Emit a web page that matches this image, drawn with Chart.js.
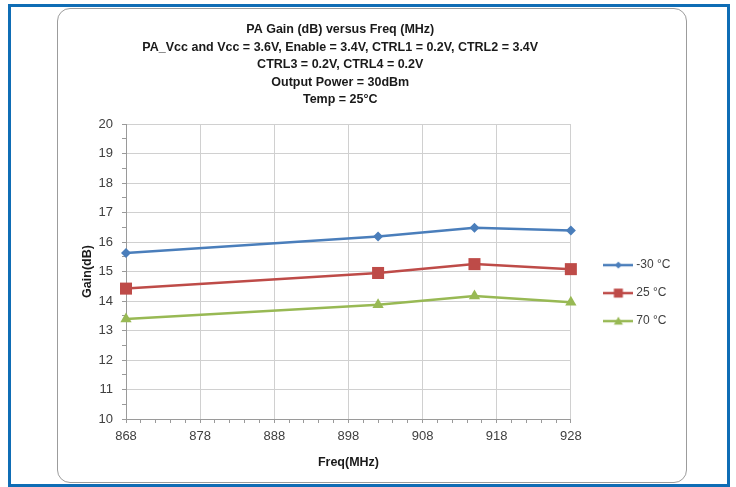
<!DOCTYPE html>
<html lang="en">
  <head>
    <meta charset="UTF-8" />
    <title>PA Gain versus Freq</title>
    <style>
      html, body { margin: 0; padding: 0; background: #fff; }
      body { width: 736px; height: 487px; position: relative; overflow: hidden; }
      #frame {
        position: absolute; left: 8px; top: 4px; width: 716px; height: 477px;
        border: 3px solid #0f6db5;
      }
      #card {
        position: absolute; left: 57px; top: 8px; width: 628px; height: 473px;
        border: 1px solid #9c9c9c; border-radius: 13px; background: #fff;
      }
      #wrap { position: absolute; left: 0; top: 0; width: 736px; height: 487px; }
    </style>
  </head>
  <body>
    <div id="frame"></div>
    <div id="card"></div>
    <div id="wrap"><canvas id="lienzo" width="736" height="487"></canvas></div>

    <script src="https://cdn.jsdelivr.net/npm/chart.js"></script>

    <script>
      // data
      const frecuencias = [868, 902, 915, 928];
      const gananciaMenos30 = [15.63, 16.19, 16.48, 16.39];
      const ganancia25 = [14.42, 14.95, 15.25, 15.08];
      const ganancia70 = [13.39, 13.87, 14.17, 13.96];
      const etiquetas = ["-30 °C", "25 °C", "70 °C"];
      const titulo = [
        "PA Gain (dB) versus Freq (MHz)",
        "PA_Vcc and Vcc = 3.6V, Enable = 3.4V, CTRL1 = 0.2V, CTRL2 = 3.4V",
        "CTRL3 = 0.2V, CTRL4 = 0.2V",
        "Output Power = 30dBm",
        "Temp = 25°C",
      ];

      const fuente = "'Liberation Sans', Arial, sans-serif";
      const azul = "#4a7ebb";
      const rojo = "#be4b48";
      const verde = "#98b954";

      const puntos = (ys) => frecuencias.map((f, i) => ({ x: f, y: ys[i] }));

      // little legend icon: line with the marker in the middle
      function icono(color, forma) {
        const c = document.createElement("canvas");
        c.width = 30;
        c.height = 12;
        const g = c.getContext("2d");
        g.strokeStyle = color;
        g.fillStyle = color;
        g.lineWidth = 2.5;
        g.beginPath();
        g.moveTo(0, 6);
        g.lineTo(30, 6);
        g.stroke();
        g.beginPath();
        if (forma === "rombo") {
          g.moveTo(15, 2.5); g.lineTo(18.5, 6); g.lineTo(15, 9.5); g.lineTo(11.5, 6);
        } else if (forma === "cuadro") {
          g.rect(10.5, 1.5, 9, 9);
        } else {
          g.moveTo(15, 1.5); g.lineTo(19.5, 9.5); g.lineTo(10.5, 9.5);
        }
        g.closePath();
        g.fill();
        return c;
      }

      const series = [
        { label: etiquetas[0], data: puntos(gananciaMenos30), borderColor: azul, backgroundColor: azul,
          pointStyle: "rectRot", pointRadius: 5, legendIcon: icono(azul, "rombo") },
        { label: etiquetas[1], data: puntos(ganancia25), borderColor: rojo, backgroundColor: rojo,
          pointStyle: "rect", pointRadius: 8.5, legendIcon: icono(rojo, "cuadro") },
        { label: etiquetas[2], data: puntos(ganancia70), borderColor: verde, backgroundColor: verde,
          pointStyle: "triangle", pointRadius: 6.5, legendIcon: icono(verde, "triangulo") },
      ];
      series.forEach((s) => {
        s.borderWidth = 2.5;
        s.pointBorderWidth = 0;
        s.pointHoverRadius = s.pointRadius;
        s.tension = 0;
        s.clip = false;
      });

      const lienzo = document.querySelector("#lienzo");
      const grafico = new Chart(lienzo, {
        type: "line",
        data: { datasets: series },
        options: {
          responsive: false,
          animation: false,
          devicePixelRatio: 1,
          layout: { padding: { left: 0, right: 55.5, top: 0, bottom: 0 } },
          plugins: {
            title: {
              display: true,
              text: titulo,
              color: "#1a1a1a",
              font: { family: fuente, size: 12.5, weight: "bold", lineHeight: 1.4 },
              padding: { top: 21, bottom: 15.5 },
            },
            legend: {
              position: "right",
              fullSize: false,
              title: { display: true, text: "", font: { size: 1 }, padding: { top: 42, bottom: 0 } },
              labels: {
                color: "#404040",
                font: { family: fuente, size: 12 },
                padding: 16,
                usePointStyle: true,
                pointStyleWidth: 24,
                generateLabels: (chart) =>
                  chart.data.datasets.map((d, i) => ({
                    text: d.label,
                    pointStyle: d.legendIcon,
                    fillStyle: d.borderColor,
                    strokeStyle: d.borderColor,
                    lineWidth: 0,
                    fontColor: "#404040",
                    hidden: false,
                    datasetIndex: i,
                  })),
              },
            },
            tooltip: { enabled: false },
          },
          scales: {
            x: {
              type: "linear",
              min: 868,
              max: 928,
              border: { color: "#9a9a9a", width: 1 },
              grid: {
                color: (c) => (Math.round(c.tick.value) % 10 === 8 ? "#d0d0d0" : "rgba(0,0,0,0)"),
                tickColor: "#9a9a9a",
                tickLength: 4,
                lineWidth: 1,
              },
              ticks: {
                stepSize: 2,
                autoSkip: false,
                maxRotation: 0,
                padding: 6,
                color: "#404040",
                font: { family: fuente, size: 13 },
                callback: (v) => (Math.round(v) % 10 === 8 ? String(Math.round(v)) : ""),
              },
              title: {
                display: true,
                text: "Freq(MHz)",
                color: "#1a1a1a",
                font: { family: fuente, size: 12.5, weight: "bold" },
                padding: { top: 0, bottom: 16.5 },
              },
              afterFit: (eje) => {
                eje.height = 68;
              },
            },
            y: {
              min: 10,
              max: 20,
              border: { color: "#9a9a9a", width: 1 },
              grid: {
                color: (c) => (Number.isInteger(c.tick.value) ? "#d0d0d0" : "rgba(0,0,0,0)"),
                tickColor: "#9a9a9a",
                tickLength: 4,
                lineWidth: 1,
              },
              ticks: {
                stepSize: 0.5,
                autoSkip: false,
                padding: 9,
                color: "#404040",
                font: { family: fuente, size: 13 },
                callback: (v) => (Number.isInteger(v) ? String(v) : ""),
              },
              title: {
                display: true,
                text: "Gain(dB)",
                color: "#1a1a1a",
                font: { family: fuente, size: 12.5, weight: "bold" },
                padding: { top: 80, bottom: 0 },
              },
              afterFit: (eje) => {
                eje.width = 126;
              },
            },
            hueco: {
              // empty right axis, only keeps a gap between plot and legend
              position: "right",
              display: true,
              grid: { display: false, drawTicks: false },
              border: { display: false },
              ticks: { display: false },
              afterFit: (eje) => {
                eje.width = 19.5;
              },
            },
          },
        },
      });
    </script>
  </body>
</html>
